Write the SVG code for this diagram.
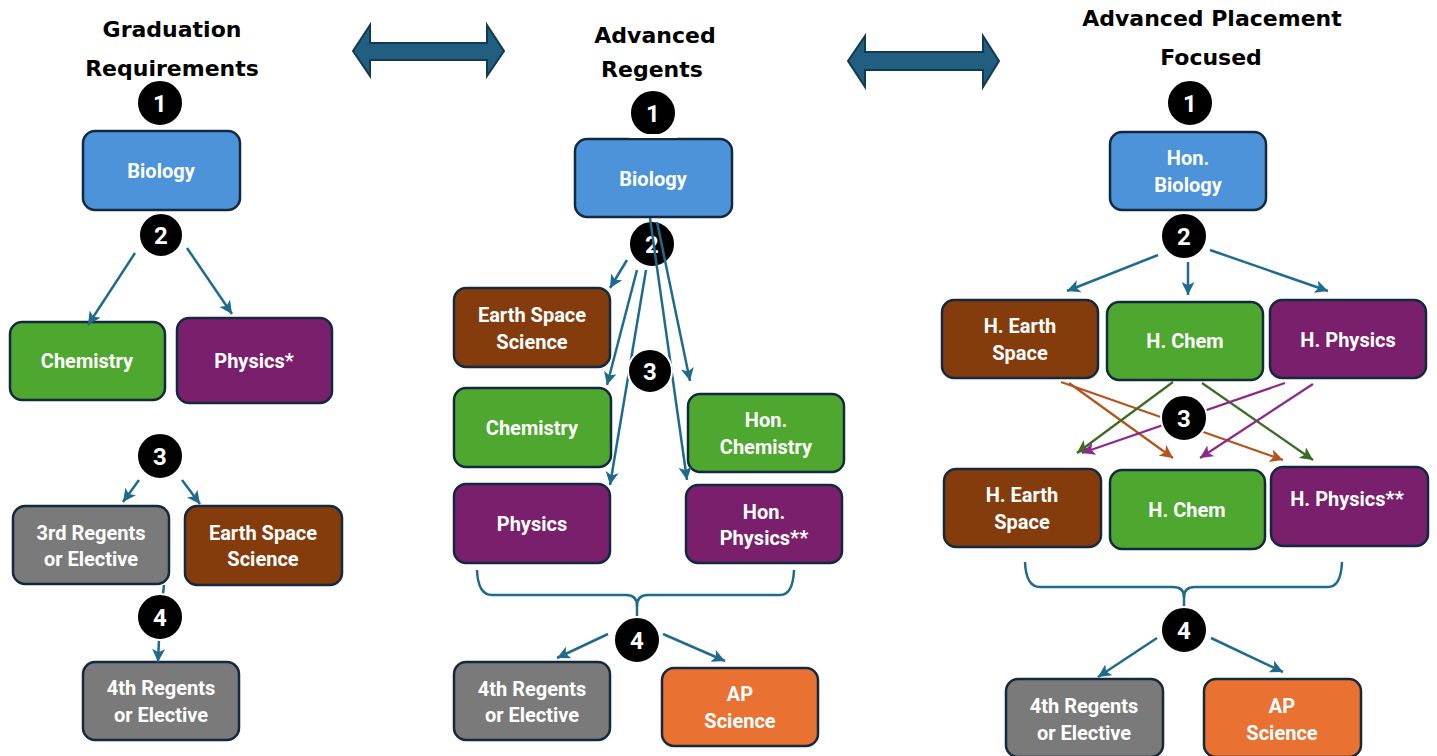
<svg xmlns="http://www.w3.org/2000/svg" width="1437" height="756" viewBox="0 0 1437 756">
<defs>
<style>
.title{font-family:"DejaVu Sans",Verdana,sans-serif;font-weight:700;font-size:22px;fill:#000;text-anchor:middle}
.lbl{font-family:Roboto,"Liberation Sans",sans-serif;font-weight:700;font-size:20px;fill:#fff;text-anchor:middle}
.num{font-family:Roboto,"Liberation Sans",sans-serif;font-weight:700;font-size:24px;fill:#fff;text-anchor:middle}
.box{stroke:#13293d;stroke-width:2.5}
.blue{fill:#4d93d9}.green{fill:#4ea72e}.purple{fill:#7a1f6b}.brown{fill:#843c0c}.gray{fill:#7a7a7a}.orange{fill:#e97132}
.badge{fill:#000;stroke:#fff;stroke-width:2}
.c{fill:none;stroke:#1f6b8e;stroke-width:2.5}
.cb{fill:none;stroke:#b4541c;stroke-width:2.2}
.cg{fill:none;stroke:#3d6b22;stroke-width:2.2}
.cp{fill:none;stroke:#8b2a8b;stroke-width:2.2}
.dbl{fill:#215e80;stroke:#0f3a52;stroke-width:2}
</style>
<marker id="ah" viewBox="0 0 12 12" refX="12" refY="6" markerWidth="13" markerHeight="13" markerUnits="userSpaceOnUse" orient="auto"><path d="M0,0 L12,6 L0,12 L3,6 z" fill="#1f6b8e"/></marker>
<marker id="ahb" viewBox="0 0 12 12" refX="12" refY="6" markerWidth="13" markerHeight="13" markerUnits="userSpaceOnUse" orient="auto"><path d="M0,0 L12,6 L0,12 L3,6 z" fill="#b4541c"/></marker>
<marker id="ahg" viewBox="0 0 12 12" refX="12" refY="6" markerWidth="13" markerHeight="13" markerUnits="userSpaceOnUse" orient="auto"><path d="M0,0 L12,6 L0,12 L3,6 z" fill="#3d6b22"/></marker>
<marker id="ahp" viewBox="0 0 12 12" refX="12" refY="6" markerWidth="13" markerHeight="13" markerUnits="userSpaceOnUse" orient="auto"><path d="M0,0 L12,6 L0,12 L3,6 z" fill="#8b2a8b"/></marker>
</defs>
<rect width="1437" height="756" fill="#fff"/>

<g id="titles">
<text class="title" x="172" y="37">Graduation</text>
<text class="title" x="172" y="76">Requirements</text>
<text class="title" x="655" y="43">Advanced</text>
<text class="title" x="652" y="77">Regents</text>
<text class="title" x="1212" y="26">Advanced Placement</text>
<text class="title" x="1211" y="65">Focused</text>
</g>

<g id="double-arrow-1"><path class="dbl" d="M353,51 L370,25 L370,43 L487,43 L487,25 L504,51 L487,76 L487,60 L370,60 L370,76 Z"/></g>
<g id="double-arrow-2"><path class="dbl" d="M848,61 L865,36 L865,52 L983,52 L983,36 L999,61 L983,87 L983,70 L865,70 L865,87 Z"/></g>

<!-- Left column -->
<g id="L-bio"><rect class="box blue" x="83" y="131" width="157" height="79" rx="12"/><text class="lbl" x="161" y="178">Biology</text></g>
<g id="L-chem"><rect class="box green" x="10" y="322" width="155" height="78" rx="12"/><text class="lbl" x="87" y="368">Chemistry</text></g>
<g id="L-phys"><rect class="box purple" x="177" y="318" width="155" height="85" rx="12"/><text class="lbl" x="254" y="368">Physics*</text></g>
<g id="L-3rd"><rect class="box gray" x="13" y="506" width="156" height="78" rx="12"/><text class="lbl" x="91" y="540">3rd Regents</text><text class="lbl" x="91" y="566">or Elective</text></g>
<g id="L-ess"><rect class="box brown" x="185" y="506" width="157" height="79" rx="12"/><text class="lbl" x="263" y="540">Earth Space</text><text class="lbl" x="263" y="566">Science</text></g>
<g id="L-4th"><rect class="box gray" x="83" y="662" width="156" height="78" rx="12"/><text class="lbl" x="161" y="695">4th Regents</text><text class="lbl" x="161" y="722">or Elective</text></g>

<!-- Middle column -->
<g id="M-bio"><rect class="box blue" x="575" y="139" width="157" height="78" rx="12"/><text class="lbl" x="653" y="186">Biology</text></g>
<g id="M-ess"><rect class="box brown" x="454" y="288" width="156" height="79" rx="12"/><text class="lbl" x="532" y="322">Earth Space</text><text class="lbl" x="532" y="349">Science</text></g>
<g id="M-chem"><rect class="box green" x="454" y="388" width="157" height="79" rx="12"/><text class="lbl" x="532" y="435">Chemistry</text></g>
<g id="M-hchem"><rect class="box green" x="688" y="394" width="156" height="78" rx="12"/><text class="lbl" x="766" y="427">Hon.</text><text class="lbl" x="766" y="454">Chemistry</text></g>
<g id="M-phys"><rect class="box purple" x="454" y="484" width="156" height="79" rx="12"/><text class="lbl" x="532" y="531">Physics</text></g>
<g id="M-hphys"><rect class="box purple" x="686" y="485" width="156" height="78" rx="12"/><text class="lbl" x="764" y="519">Hon.</text><text class="lbl" x="764" y="545">Physics**</text></g>
<g id="M-4th"><rect class="box gray" x="454" y="662" width="156" height="78" rx="12"/><text class="lbl" x="532" y="696">4th Regents</text><text class="lbl" x="532" y="722">or Elective</text></g>
<g id="M-ap"><rect class="box orange" x="662" y="668" width="156" height="78" rx="12"/><text class="lbl" x="740" y="701">AP</text><text class="lbl" x="740" y="728">Science</text></g>

<!-- Right column -->
<g id="R-hbio"><rect class="box blue" x="1110" y="132" width="156" height="78" rx="12"/><text class="lbl" x="1188" y="165">Hon.</text><text class="lbl" x="1188" y="192">Biology</text></g>
<g id="R-ess1"><rect class="box brown" x="942" y="300" width="156" height="78" rx="12"/><text class="lbl" x="1020" y="333">H. Earth</text><text class="lbl" x="1020" y="360">Space</text></g>
<g id="R-chem1"><rect class="box green" x="1107" y="302" width="156" height="78" rx="12"/><text class="lbl" x="1185" y="348">H. Chem</text></g>
<g id="R-phys1"><rect class="box purple" x="1270" y="300" width="156" height="78" rx="12"/><text class="lbl" x="1348" y="347">H. Physics</text></g>
<g id="R-ess2"><rect class="box brown" x="944" y="469" width="157" height="78" rx="12"/><text class="lbl" x="1022" y="502">H. Earth</text><text class="lbl" x="1022" y="529">Space</text></g>
<g id="R-chem2"><rect class="box green" x="1110" y="470" width="155" height="79" rx="12"/><text class="lbl" x="1187" y="517">H. Chem</text></g>
<g id="R-phys2"><rect class="box purple" x="1271" y="467" width="157" height="79" rx="12"/><text class="lbl" x="1347" y="506">H. Physics**</text></g>
<g id="R-4th"><rect class="box gray" x="1006" y="679" width="157" height="78" rx="12"/><text class="lbl" x="1084" y="713">4th Regents</text><text class="lbl" x="1084" y="740">or Elective</text></g>
<g id="R-ap"><rect class="box orange" x="1204" y="679" width="157" height="78" rx="12"/><text class="lbl" x="1282" y="713">AP</text><text class="lbl" x="1282" y="740">Science</text></g>

<g id="M-step2"><circle class="badge" cx="652" cy="244" r="23"/><text class="num" x="652" y="253">2</text></g>

<g id="connectors">
<!-- left -->
<line class="c" x1="135" y1="253" x2="88" y2="325" marker-end="url(#ah)"/>
<line class="c" x1="187" y1="248" x2="232" y2="314" marker-end="url(#ah)"/>
<line class="c" x1="139" y1="480" x2="123" y2="502" marker-end="url(#ah)"/>
<line class="c" x1="182" y1="480" x2="200" y2="504" marker-end="url(#ah)"/>
<line class="c" x1="164" y1="585" x2="163" y2="594"/>
<line class="c" x1="159" y1="639" x2="158" y2="662" marker-end="url(#ah)"/>
<!-- middle -->
<line class="c" x1="627" y1="260" x2="610" y2="288" marker-end="url(#ah)"/>
<line class="c" x1="637" y1="270" x2="607" y2="385" marker-end="url(#ah)"/>
<line class="c" x1="646" y1="270" x2="610" y2="485" marker-end="url(#ah)"/>
<line class="c" x1="650" y1="218" x2="687" y2="480" marker-end="url(#ah)"/>
<line class="c" x1="657" y1="222" x2="690" y2="381" marker-end="url(#ah)"/>
<path class="c" d="M477,570 Q478,595 492,595 L626,595 Q637,595 637,606 Q637,595 648,595 L780,595 Q793,595 794,570"/>
<line class="c" x1="637" y1="605" x2="637" y2="618"/>
<line class="c" x1="608" y1="634" x2="557" y2="658" marker-end="url(#ah)"/>
<line class="c" x1="663" y1="634" x2="725" y2="661" marker-end="url(#ah)"/>
<!-- right -->
<line class="c" x1="1158" y1="255" x2="1067" y2="291" marker-end="url(#ah)"/>
<line class="c" x1="1188" y1="262" x2="1188" y2="295" marker-end="url(#ah)"/>
<line class="c" x1="1210" y1="250" x2="1328" y2="291" marker-end="url(#ah)"/>
<line class="cb" x1="1069" y1="383" x2="1173" y2="458" marker-end="url(#ahb)"/>
<line class="cb" x1="1061" y1="382" x2="1283" y2="460" marker-end="url(#ahb)"/>
<line class="cg" x1="1173" y1="382" x2="1077" y2="453" marker-end="url(#ahg)"/>
<line class="cg" x1="1202" y1="383" x2="1313" y2="460" marker-end="url(#ahg)"/>
<line class="cp" x1="1285" y1="383" x2="1082" y2="453" marker-end="url(#ahp)"/>
<line class="cp" x1="1313" y1="384" x2="1200" y2="458" marker-end="url(#ahp)"/>
<path class="c" d="M1025,562 Q1026,587 1040,587 L1173,587 Q1184,587 1184,597 Q1184,587 1195,587 L1328,587 Q1341,587 1342,562"/>
<line class="c" x1="1184" y1="596" x2="1184" y2="607"/>
<line class="c" x1="1157" y1="638" x2="1098" y2="677" marker-end="url(#ah)"/>
<line class="c" x1="1211" y1="638" x2="1283" y2="672" marker-end="url(#ah)"/>
</g>

<g id="L-step1"><circle class="badge" cx="160" cy="103" r="23"/><text class="num" x="160" y="112">1</text></g>
<g id="L-step2"><circle class="badge" cx="161" cy="235" r="22"/><text class="num" x="161" y="244">2</text></g>
<g id="L-step3"><circle class="badge" cx="160" cy="456" r="23"/><text class="num" x="160" y="465">3</text></g>
<g id="L-step4"><circle class="badge" cx="160" cy="617" r="23"/><text class="num" x="160" y="626">4</text></g>
<g id="M-step1"><circle class="badge" cx="653" cy="113" r="23"/><text class="num" x="653" y="122">1</text><rect x="629" y="134" width="48" height="4" fill="#fff"/></g>
<g id="M-step3"><circle class="badge" cx="650" cy="371" r="22"/><text class="num" x="650" y="380">3</text></g>
<g id="M-step4"><circle class="badge" cx="637" cy="640" r="23"/><text class="num" x="637" y="649">4</text></g>
<g id="R-step1"><circle class="badge" cx="1190" cy="103" r="23"/><text class="num" x="1190" y="112">1</text></g>
<g id="R-step2"><circle class="badge" cx="1184" cy="236" r="23"/><text class="num" x="1184" y="245">2</text></g>
<g id="R-step3"><circle class="badge" cx="1184" cy="418" r="23"/><text class="num" x="1184" y="427">3</text></g>
<g id="R-step4"><circle class="badge" cx="1184" cy="630" r="23"/><text class="num" x="1184" y="639">4</text></g>
</svg>
